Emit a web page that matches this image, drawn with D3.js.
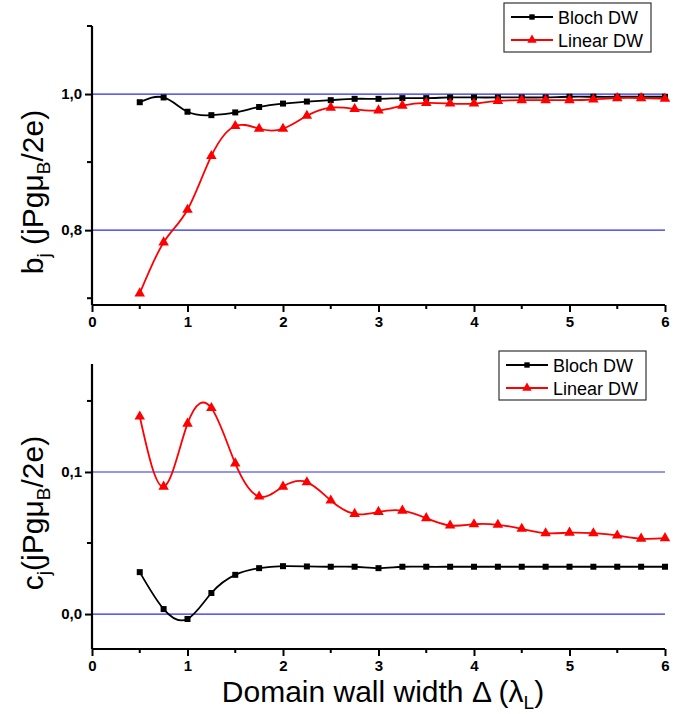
<!DOCTYPE html>
<html lang="en">
<head>
<meta charset="UTF-8">
<title>Domain wall width</title>
<script src="https://d3js.org/d3.v7.min.js"></script>
<style>
    body { margin: 0; background: #fff; }
    text { font-family: "Liberation Sans", Arial, sans-serif; }
    .tick text { font-weight: bold; font-size: 15px; }
</style>
</head>
<body>
<svg id="chart" width="697" height="714"></svg>
<script>
    // Domain wall widths (x values, shared by all series)
    const widths = [0.5, 0.75, 1.0, 1.25, 1.5, 1.75, 2.0, 2.25, 2.5, 2.75, 3.0, 3.25,
        3.5, 3.75, 4.0, 4.25, 4.5, 4.75, 5.0, 5.25, 5.5, 5.75, 6.0];

    // b_j values (top panel)
    const blochB = [0.988, 0.995, 0.974, 0.969, 0.973, 0.981, 0.986, 0.989, 0.991, 0.993, 0.993, 0.994,
        0.994, 0.995, 0.995, 0.995, 0.995, 0.995, 0.996, 0.996, 0.996, 0.996, 0.996];
    const linearB = [0.707, 0.782, 0.830, 0.909, 0.953, 0.949, 0.949, 0.968, 0.980, 0.978, 0.976, 0.983,
        0.987, 0.986, 0.986, 0.990, 0.991, 0.991, 0.991, 0.992, 0.994, 0.994, 0.993];

    // c_j values (bottom panel)
    const blochC = [0.0295, 0.0035, -0.0035, 0.0148, 0.0276, 0.0323, 0.0337, 0.0335, 0.0333, 0.0333, 0.0323, 0.0333,
        0.0333, 0.0333, 0.0333, 0.0333, 0.0333, 0.0333, 0.0333, 0.0333, 0.0333, 0.0333, 0.0333];
    const linearC = [0.139, 0.0897, 0.134, 0.145, 0.106, 0.0827, 0.0897, 0.0928, 0.0799, 0.0705, 0.0719, 0.0728,
        0.0675, 0.0623, 0.0632, 0.0628, 0.0600, 0.0569, 0.0573, 0.0569, 0.0553, 0.0531, 0.0534];

    // Ticks
    const xTicks = [0, 1, 2, 3, 4, 5, 6];
    const xMinorTicks = [0.5, 1.5, 2.5, 3.5, 4.5, 5.5];
    const bTicks = [0.8, 1.0];
    const bMinorTicks = [0.7, 0.9, 1.1];
    const cTicks = [0.0, 0.1];
    const cMinorTicks = [0.05, 0.15];
    const seriesNames = ["Bloch DW", "Linear DW"];

    const svg = d3.select("#chart");
    const commaFormat = d3.formatLocale({ decimal: ",", thousands: ".", grouping: [3], currency: ["", ""] }).format(".1f");

    const x = d3.scaleLinear().domain([0, 6]).range([92, 665]);

    const panels = [
        {
            y: d3.scaleLinear().domain([0.69, 1.1]).range([305, 26]),
            series: [blochB, linearB],
            ticks: bTicks, minor: bMinorTicks,
            label: ["b", "j", " (jPgμ", "B", "/2e)"],
            labelY: 192,
            legend: { x: 504, y: 3, w: 147, h: 49 }
        },
        {
            y: d3.scaleLinear().domain([-0.0246, 0.176]).range([649, 364]),
            series: [blochC, linearC],
            ticks: cTicks, minor: cMinorTicks,
            label: ["c", "j", "(jPgμ", "B", "/2e)"],
            labelY: 513,
            legend: { x: 499, y: 351, w: 147, h: 49 }
        }
    ];

    const colors = ["#000000", "#ff0000"];
    const symbols = [d3.symbolSquare, d3.symbolTriangle];
    const symbolSizes = [36, 48];

    panels.forEach(p => {
        const g = svg.append("g");
        const y0 = p.y.range()[0];

        // blue reference lines at the major y ticks
        g.selectAll(".ref")
            .data(p.ticks)
            .enter()
            .append("line")
            .attr("x1", x(0)).attr("x2", x(6))
            .attr("y1", d => p.y(d)).attr("y2", d => p.y(d))
            .attr("stroke", "#2a2aee")
            .attr("stroke-width", 1.2);

        // x axis
        const xAxis = g.append("g")
            .attr("transform", `translate(0, ${y0})`)
            .call(d3.axisBottom(x).tickValues(xTicks).tickSize(7).tickPadding(4).tickFormat(d3.format("d")));
        xAxis.append("g").selectAll("line")
            .data(xMinorTicks)
            .enter()
            .append("line")
            .attr("x1", d => x(d)).attr("x2", d => x(d))
            .attr("y1", 0).attr("y2", 4)
            .attr("stroke", "#000").attr("stroke-width", 2);

        // y axis
        const yAxis = g.append("g")
            .attr("transform", `translate(${x(0)}, 0)`)
            .call(d3.axisLeft(p.y).tickValues(p.ticks).tickSize(7).tickPadding(3).tickFormat(commaFormat));
        yAxis.append("g").selectAll("line")
            .data(p.minor)
            .enter()
            .append("line")
            .attr("x1", 0).attr("x2", -5)
            .attr("y1", d => p.y(d)).attr("y2", d => p.y(d))
            .attr("stroke", "#000").attr("stroke-width", 2);

        [xAxis, yAxis].forEach(a => {
            a.select(".domain").attr("stroke-width", 2.2).attr("d", null);
            a.selectAll(".tick line").attr("stroke-width", 2);
            a.selectAll("text").attr("fill", "#000");
        });
        xAxis.select(".domain").attr("d", `M${x(0)},0H${x(6)}`);
        yAxis.select(".domain").attr("d", `M0,${p.y.range()[1]}V${y0}`);

        // series
        p.series.forEach((vals, i) => {
            const pts = widths.map((w, k) => [w, vals[k]]);
            g.append("path")
                .datum(pts)
                .attr("fill", "none")
                .attr("stroke", colors[i])
                .attr("stroke-width", 1.8)
                .attr("d", d3.line().x(d => x(d[0])).y(d => p.y(d[1])).curve(d3.curveNatural));
            g.selectAll(".m" + i)
                .data(pts)
                .enter()
                .append("path")
                .attr("transform", d => `translate(${x(d[0])}, ${p.y(d[1])})`)
                .attr("d", d3.symbol().type(symbols[i]).size(symbolSizes[i]))
                .attr("fill", colors[i]);
        });

        // y label (rotated)
        const lab = g.append("text")
            .attr("transform", `translate(43, ${p.labelY}) rotate(-90)`)
            .attr("text-anchor", "middle")
            .attr("font-size", "30px");
        lab.append("tspan").text(p.label[0]);
        lab.append("tspan").attr("font-size", "19px").attr("dy", 7).text(p.label[1]);
        lab.append("tspan").attr("dy", -7).text(p.label[2]);
        lab.append("tspan").attr("font-size", "19px").attr("dy", 7).text(p.label[3]);
        lab.append("tspan").attr("dy", -7).text(p.label[4]);

        // legend
        const L = p.legend;
        const lg = g.append("g").attr("transform", `translate(${L.x}, ${L.y})`);
        lg.append("rect")
            .attr("width", L.w).attr("height", L.h)
            .attr("fill", "#fff").attr("stroke", "#333").attr("stroke-width", 1.2);
        seriesNames.forEach((name, i) => {
            const ry = 14 + i * 23;
            lg.append("line")
                .attr("x1", 7).attr("x2", 49)
                .attr("y1", ry).attr("y2", ry)
                .attr("stroke", colors[i]).attr("stroke-width", 1.8);
            lg.append("path")
                .attr("transform", `translate(28, ${ry})`)
                .attr("d", d3.symbol().type(symbols[i]).size(symbolSizes[i] * 0.8))
                .attr("fill", colors[i]);
            lg.append("text")
                .attr("x", 54).attr("y", ry + 6.5)
                .attr("font-size", "18px")
                .text(name);
        });
    });

    // x axis label
    const xl = svg.append("text")
        .attr("x", 383).attr("y", 702)
        .attr("text-anchor", "middle")
        .attr("font-size", "30px");
    xl.append("tspan").text("Domain wall width Δ (λ");
    xl.append("tspan").attr("font-size", "19px").attr("dy", 7).text("L");
    xl.append("tspan").attr("dy", -7).text(")");
</script>
</body>
</html>
